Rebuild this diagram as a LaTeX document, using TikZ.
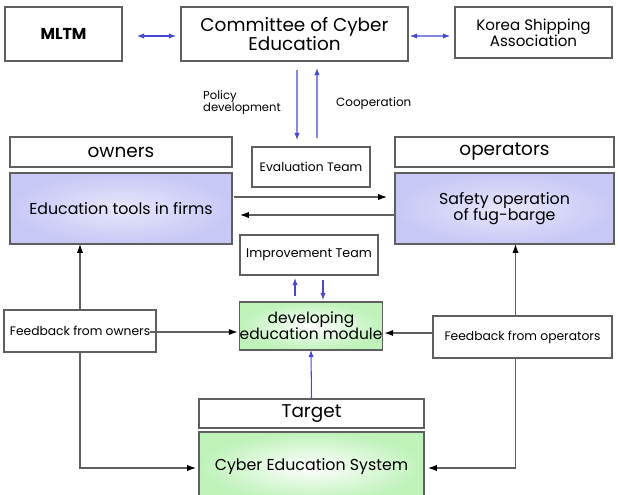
\documentclass[tikz,border=0pt]{standalone}
\usepackage{fontspec}
\setmainfont{Poppins}
\usetikzlibrary{calc,arrows.meta}
\definecolor{lav}{RGB}{200,200,246}
\definecolor{mint}{RGB}{190,242,185}
\definecolor{arrblue}{RGB}{70,70,215}
\definecolor{edge}{RGB}{95,95,95}
\newcommand{\fs}[1]{\fontsize{#1}{1.05\dimexpr #1pt\relax}\selectfont}

\begin{document}
\begin{tikzpicture}[x=0.02cm, y=-0.02cm, >={Latex[length=5pt,width=3.5pt,color=black]},
    box/.style={draw=edge, line width=0.7pt, inner sep=0pt, outer sep=0pt, align=center, fill=white},
    lavbox/.style={box, inner color=lav!45, outer color=lav},
    mintbox/.style={box, inner color=white, outer color=mint},
    link/.style={->, draw=edge, line width=0.6pt},
    bluelink/.style={draw=arrblue, line width=0.6pt, >={Latex[length=4pt,width=3pt]}}]

    \useasboundingbox (0,0) rectangle (618,494);

    % top row
    \node[box, minimum width=2.34cm, minimum height=1.08cm, font=\fs{9}\bfseries] (mltm) at (63.5,34) {MLTM};
    \node[box, minimum width=4.54cm, minimum height=1.08cm, font=\fs{10.5}] (committee) at (294.5,34) {Committee of Cyber\\Education};
    \node[box, minimum width=3.14cm, minimum height=1.02cm, font=\fs{8.6}] (ksa) at (533.5,32.5) {Korea Shipping\\Association};

    % owners / operators
    \node[box, minimum width=4.44cm, minimum height=0.6cm, font=\fs{10.5}] (owners) at (121,152) {owners};
    \node[lavbox, minimum width=4.44cm, minimum height=1.42cm, font=\fs{9}] (tools) at (121,208.5) {Education tools in firms};
    \node[box, minimum width=4.38cm, minimum height=0.6cm, font=\fs{10.5}] (operators) at (504.5,152) {operators};
    \node[lavbox, minimum width=4.38cm, minimum height=1.42cm, font=\fs{9}] (safety) at (504.5,208.5) {Safety operation\\of fug-barge};

    % teams
    \node[box, minimum width=2.36cm, minimum height=0.8cm, font=\fs{7}] (evalteam) at (311,167) {Evaluation Team};
    \node[box, minimum width=2.76cm, minimum height=0.8cm, font=\fs{7.2}] (improveteam) at (309,255) {Improvement Team};

    % module and feedback
    \node[mintbox, minimum width=2.84cm, minimum height=0.96cm, font=\fs{8.8}] (module) at (311,326) {developing\\education module};
    \node[box, minimum width=3.04cm, minimum height=0.84cm, font=\fs{7}] (fbowners) at (80,331) {Feedback from owners};
    \node[box, minimum width=3.58cm, minimum height=0.84cm, font=\fs{7}] (fboperators) at (522.5,337) {Feedback from operators};

    % target
    \node[box, minimum width=4.5cm, minimum height=0.58cm, font=\fs{10.5}] (target) at (311.5,413.5) {Target};
    \node[mintbox, minimum width=4.5cm, minimum height=1.4cm, font=\fs{9}] (ces) at (311.5,467) {Cyber Education System};

    % blue links
    \draw[bluelink, <->] ($(mltm.east)+(15,2)$) -- ($(committee.west)+(-5,2)$);
    \draw[bluelink, <->] ($(committee.east)+(2,2)$) -- ($(ksa.west)+(-5,3.5)$);
    \draw[bluelink, ->] ($(committee.south)+(2.5,9)$) -- ($(evalteam.north)+(-14,-7)$);
    \draw[bluelink, ->] ($(evalteam.north)+(6,-9)$) -- ($(committee.south)+(22.5,7)$);
    \node[font=\fs{6.6}, align=left, anchor=west] (policy) at (197,103) {Policy\\development};
    \node[font=\fs{6.8}, anchor=west] (coop) at (330,104) {Cooperation};
    \draw[bluelink, ->] ($(module.north)+(-16,-6)$) -- ($(improveteam.south)+(-14,3)$);
    \draw[bluelink, ->] ($(improveteam.south)+(14,5)$) -- ($(module.north)+(12,-2)$);
    \draw[bluelink, ->] (target.north) -- (module.south);

    % black links
    \draw[link] ($(tools.east)+(2,-11.5)$) -- ($(safety.west)+(-8,-11.5)$);
    \draw[link] ($(safety.west)+(0,6.5)$) -- ($(tools.east)+(8,6.5)$);
    \draw[link] (fbowners.north) -- (fbowners.north |- tools.south);
    \draw[link] ($(fboperators.north)+(-7,0)$) coordinate (fbup) -- (fbup |- safety.south);
    \draw[link] ($(fbowners.east)+(-6,1)$) -- ($(module.west)+(-2,6)$);
    \draw[link] ($(fboperators.west)+(0,-4)$) -- ($(module.east)+(2,7)$);
    \draw[link] (fbowners.south) |- ($(ces.west)+(-3,1)$);
    \draw[link] ($(fboperators.south)+(-7,0)$) |- ($(ces.east)+(4,1)$);

\end{tikzpicture}
\end{document}
